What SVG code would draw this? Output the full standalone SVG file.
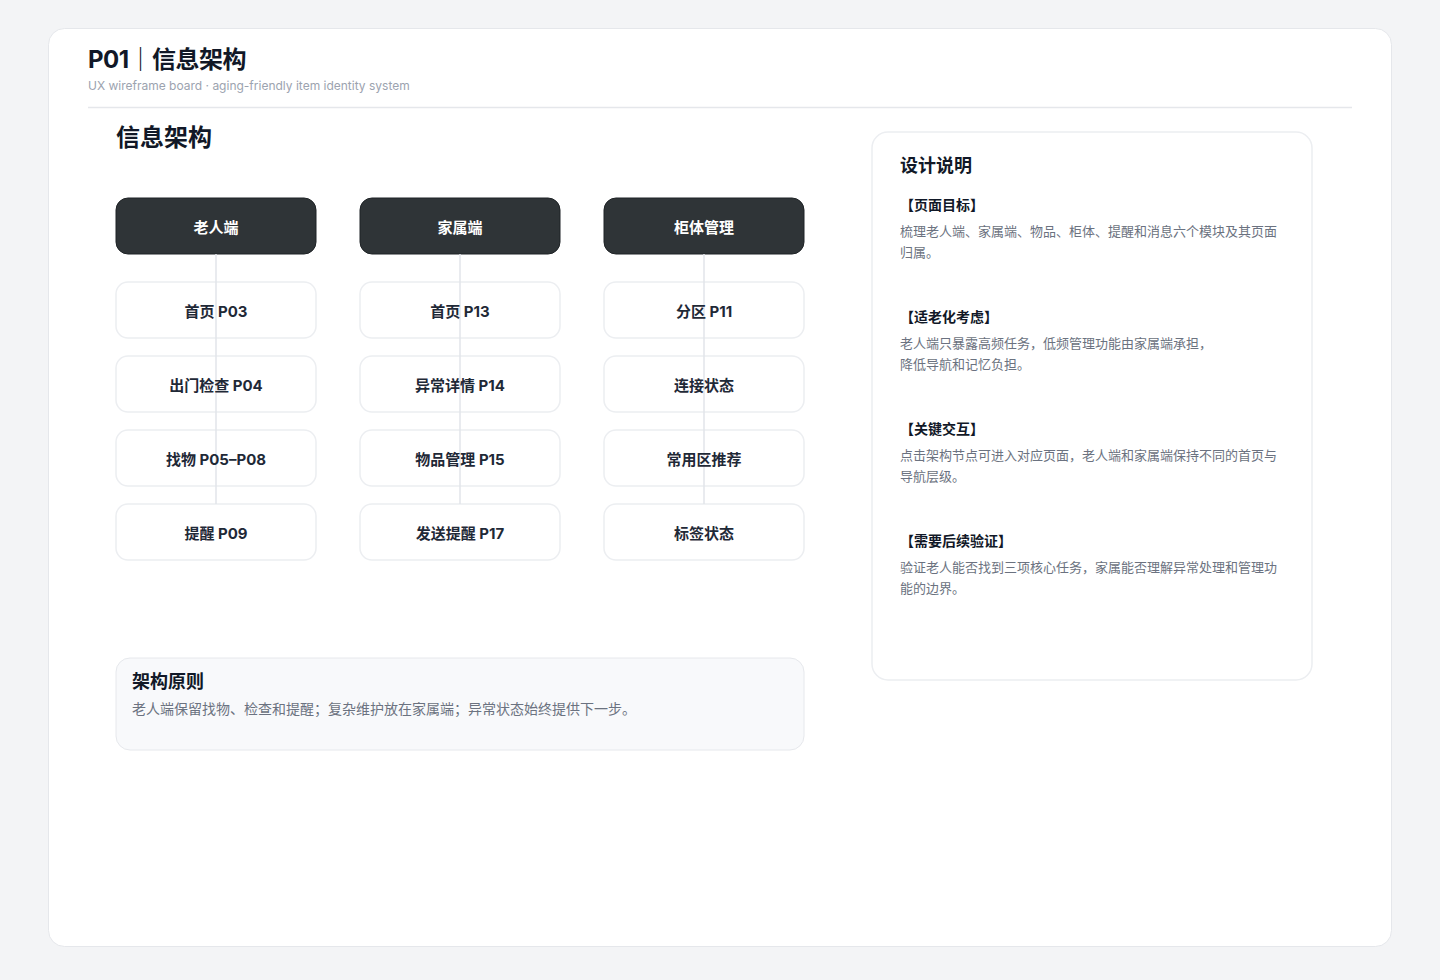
<svg xmlns="http://www.w3.org/2000/svg" width="1440" height="980" viewBox="0 0 1440 980">
<style>
.t{font-family:Inter,"Noto Sans CJK SC",sans-serif}
.hd{fill:#2f3437;stroke:#1f2326;stroke-width:1}
.hdt{fill:#ffffff;font-size:15px;font-weight:700;text-anchor:middle}
.nd{fill:#ffffff;stroke:#eceef1;stroke-width:1.5}
.ndt{fill:#1f2937;font-size:15px;font-weight:700;text-anchor:middle}
.conn{stroke:#e2e4ea;stroke-width:1.5;fill:none}
.sec{fill:#111827;font-size:14px;font-weight:700}
.body{fill:#6b7280;font-size:13px}
</style>
<rect x="0" y="0" width="1440" height="980" fill="#f3f4f6"/>
<rect x="48.5" y="28.5" width="1343" height="918" rx="16" fill="#ffffff" stroke="#e5e7eb"/>
<text class="t" x="88" y="68" font-size="24" font-weight="700" fill="#111827" letter-spacing="-0.5">P01｜信息架构</text>
<text class="t" x="88" y="90" font-size="12" fill="#9ca3af">UX wireframe board · aging-friendly item identity system</text>
<line x1="88" y1="107.5" x2="1352" y2="107.5" stroke="#e5e7eb" stroke-width="1.5"/>
<text class="t" x="116" y="146" font-size="24" font-weight="700" fill="#111827">信息架构</text>

<g id="nodes">
<g id="n-elder"><rect class="hd" x="116" y="198" width="200" height="56" rx="12"/><text class="t hdt" x="216" y="233">老人端</text></g>
<g id="n-family"><rect class="hd" x="360" y="198" width="200" height="56" rx="12"/><text class="t hdt" x="460" y="233">家属端</text></g>
<g id="n-cabinet"><rect class="hd" x="604" y="198" width="200" height="56" rx="12"/><text class="t hdt" x="704" y="233">柜体管理</text></g>

<g id="n-p03"><rect class="nd" x="116" y="282" width="200" height="56" rx="12"/></g>
<g id="n-p04"><rect class="nd" x="116" y="356" width="200" height="56" rx="12"/></g>
<g id="n-p05"><rect class="nd" x="116" y="430" width="200" height="56" rx="12"/></g>
<g id="n-p09"><rect class="nd" x="116" y="504" width="200" height="56" rx="12"/></g>
<g id="n-p13"><rect class="nd" x="360" y="282" width="200" height="56" rx="12"/></g>
<g id="n-p14"><rect class="nd" x="360" y="356" width="200" height="56" rx="12"/></g>
<g id="n-p15"><rect class="nd" x="360" y="430" width="200" height="56" rx="12"/></g>
<g id="n-p17"><rect class="nd" x="360" y="504" width="200" height="56" rx="12"/></g>
<g id="n-p11"><rect class="nd" x="604" y="282" width="200" height="56" rx="12"/></g>
<g id="n-conn"><rect class="nd" x="604" y="356" width="200" height="56" rx="12"/></g>
<g id="n-rec"><rect class="nd" x="604" y="430" width="200" height="56" rx="12"/></g>
<g id="n-tag"><rect class="nd" x="604" y="504" width="200" height="56" rx="12"/></g>
</g>

<g id="connectors">
<line class="conn" x1="216" y1="254" x2="216" y2="504"/>
<line class="conn" x1="460" y1="254" x2="460" y2="504"/>
<line class="conn" x1="704" y1="254" x2="704" y2="504"/>
</g>

<g id="node-labels">
<text class="t ndt" x="216" y="317">首页 P03</text>
<text class="t ndt" x="216" y="391">出门检查 P04</text>
<text class="t ndt" x="216" y="465">找物 P05–P08</text>
<text class="t ndt" x="216" y="539">提醒 P09</text>
<text class="t ndt" x="460" y="317">首页 P13</text>
<text class="t ndt" x="460" y="391">异常详情 P14</text>
<text class="t ndt" x="460" y="465">物品管理 P15</text>
<text class="t ndt" x="460" y="539">发送提醒 P17</text>
<text class="t ndt" x="704" y="317">分区 P11</text>
<text class="t ndt" x="704" y="391">连接状态</text>
<text class="t ndt" x="704" y="465">常用区推荐</text>
<text class="t ndt" x="704" y="539">标签状态</text>
</g>

<g id="principle">
<rect x="116" y="658" width="688" height="92" rx="14" fill="#f8f9fb" stroke="#e6e8ec"/>
<text class="t" x="132" y="688" font-size="18" font-weight="700" fill="#111827">架构原则</text>
<text class="t" x="132" y="714" font-size="14" fill="#6b7280">老人端保留找物、检查和提醒；复杂维护放在家属端；异常状态始终提供下一步。</text>
</g>

<g id="notes">
<rect x="872" y="132" width="440" height="548" rx="16" fill="#ffffff" stroke="#eceef1" stroke-width="1.5"/>
<text class="t" x="900" y="172" font-size="18" font-weight="700" fill="#111827">设计说明</text>
<text class="t sec" x="900" y="210">【页面目标】</text>
<text class="t body" x="900" y="236">梳理老人端、家属端、物品、柜体、提醒和消息六个模块及其页面</text>
<text class="t body" x="900" y="257">归属。</text>
<text class="t sec" x="900" y="322">【适老化考虑】</text>
<text class="t body" x="900" y="348">老人端只暴露高频任务，低频管理功能由家属端承担，</text>
<text class="t body" x="900" y="369">降低导航和记忆负担。</text>
<text class="t sec" x="900" y="434">【关键交互】</text>
<text class="t body" x="900" y="460">点击架构节点可进入对应页面，老人端和家属端保持不同的首页与</text>
<text class="t body" x="900" y="481">导航层级。</text>
<text class="t sec" x="900" y="546">【需要后续验证】</text>
<text class="t body" x="900" y="572">验证老人能否找到三项核心任务，家属能否理解异常处理和管理功</text>
<text class="t body" x="900" y="593">能的边界。</text>
</g>
</svg>
